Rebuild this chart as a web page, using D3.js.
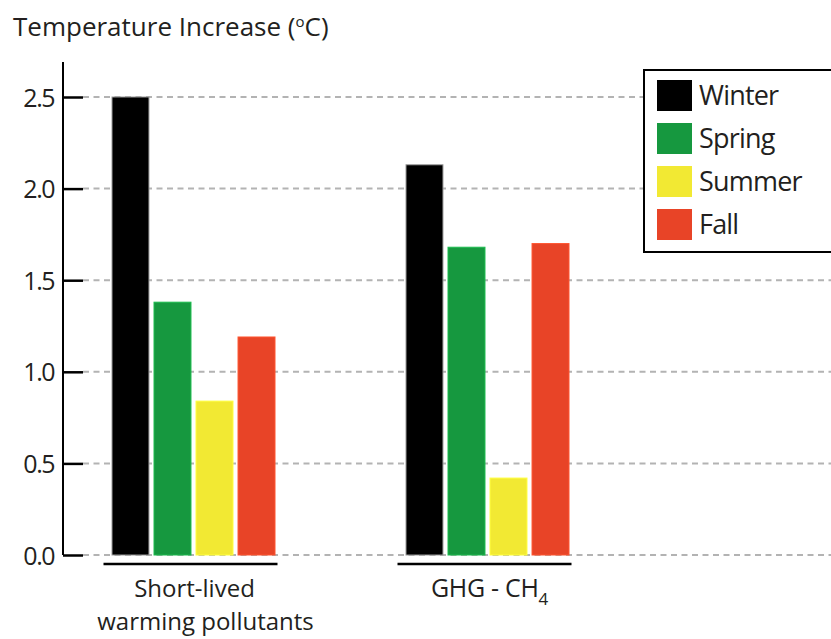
<!DOCTYPE html>
<html>
<head>
<meta charset="utf-8">
<script src="https://cdn.jsdelivr.net/npm/d3@7"></script>
<style>
  body { margin: 0; background: #fff; }
  text { font-family: "Open Sans", "Noto Sans", sans-serif; fill: #231f20; }
</style>
</head>
<body>
<svg id="chart" width="831" height="639"></svg>
<script>
// data
const groups = ["slcp", "ghg"]
const seasons = ["Winter", "Spring", "Summer", "Fall"]
const seasonColors = ["#000000", "#16983f", "#f2e933", "#e84427"]
const slcpValues = [2.5, 1.38, 0.84, 1.19]
const ghgValues = [2.13, 1.68, 0.42, 1.70]
const yTicks = [0, 0.5, 1.0, 1.5, 2.0, 2.5]

const rows = [
    { group: "slcp", values: slcpValues },
    { group: "ghg", values: ghgValues },
]

const width = 831
const height = 639
const svg = d3.select("#chart")

// scales
const y = d3.scaleLinear().domain([0, 2.5]).range([555, 97])
const xGroup = d3.scalePoint().domain(groups).range([193.5, 487.5])
const xSeason = d3
    .scaleBand()
    .domain(seasons)
    .range([-81.5, 81.5])
    .paddingInner(0.12)
    .paddingOuter(0)
const color = d3.scaleOrdinal().domain(seasons).range(seasonColors)

const axisX = 63

// dashed gridlines
svg.append("g")
    .selectAll("line")
    .data(yTicks)
    .join("line")
    .attr("x1", axisX + 20)
    .attr("x2", width)
    .attr("y1", (d) => y(d))
    .attr("y2", (d) => y(d))
    .attr("stroke", "#b3b3b3")
    .attr("stroke-width", 2)
    .attr("stroke-dasharray", "6,4.5")

// bars
const barGroups = svg
    .append("g")
    .selectAll("g")
    .data(rows)
    .join("g")
    .attr("transform", (d) => `translate(${xGroup(d.group)},0)`)

barGroups
    .selectAll("rect")
    .data((d) => d.values.map((v, i) => ({ season: seasons[i], value: v })))
    .join("rect")
    .attr("x", (d) => xSeason(d.season))
    .attr("width", xSeason.bandwidth())
    .attr("y", (d) => y(d.value))
    .attr("height", (d) => y(0) - y(d.value))
    .attr("fill", (d) => color(d.season))
    .attr("stroke", (d) =>
        d.season === "Winter" ? "#9a9a9a" : d3.color(color(d.season)).brighter(0.6)
    )
    .attr("stroke-width", 1)

// group underline
barGroups
    .append("line")
    .attr("x1", -90)
    .attr("x2", 84)
    .attr("y1", 564)
    .attr("y2", 564)
    .attr("stroke", "#000")
    .attr("stroke-width", 2.5)

// y axis
const yAxis = d3
    .axisLeft(y)
    .tickValues(yTicks)
    .tickSize(-20)
    .tickFormat(d3.format(".1f"))

const ax = svg
    .append("g")
    .attr("transform", `translate(${axisX},0)`)
    .call(yAxis)
ax.select(".domain").remove()
ax.selectAll(".tick line").attr("stroke", "#000").attr("stroke-width", 2.5)
ax.selectAll(".tick text")
    .attr("x", -9)
    .attr("dy", "0.36em")
    .style("font-size", "25px")
    .style("letter-spacing", "-1.5px")
    .attr("fill", "#231f20")
ax.append("line")
    .attr("x1", 0)
    .attr("x2", 0)
    .attr("y1", 62)
    .attr("y2", y(0))
    .attr("stroke", "#000")
    .attr("stroke-width", 2)

// title
const title = svg
    .append("text")
    .attr("x", 13)
    .attr("y", 36)
    .style("font-size", "26px")
    .style("letter-spacing", "0px")
title.append("tspan").text("Temperature Increase (")
title.append("tspan").text("o").attr("dy", -9).style("font-size", "15px")
title.append("tspan").text("C)").attr("dy", 9)

// category labels
svg.append("text")
    .attr("text-anchor", "middle")
    .attr("x", xGroup("slcp") + 1)
    .attr("y", 597)
    .style("font-size", "24px")
    .text("Short-lived")
svg.append("text")
    .attr("text-anchor", "middle")
    .attr("x", xGroup("slcp") + 12)
    .attr("y", 630)
    .style("font-size", "24px")
    .text("warming pollutants")

const lab2 = svg
    .append("text")
    .attr("text-anchor", "middle")
    .attr("x", xGroup("ghg") + 2)
    .attr("y", 597)
    .style("font-size", "25px")
    .style("letter-spacing", "-0.3px")
lab2.append("tspan").text("GHG - CH")
lab2.append("tspan").text("4").attr("dy", 8).style("font-size", "17px")

// legend
const legend = svg.append("g")
legend
    .append("rect")
    .attr("x", 644)
    .attr("y", 70)
    .attr("width", 200)
    .attr("height", 182)
    .attr("fill", "#fff")
    .attr("stroke", "#000")
    .attr("stroke-width", 2)

const items = legend
    .selectAll("g.item")
    .data(seasons)
    .join("g")
    .attr("class", "item")
    .attr("transform", (d, i) => `translate(657,${80 + i * 43})`)
items
    .append("rect")
    .attr("width", 35)
    .attr("height", 31)
    .attr("fill", (d) => color(d))
items
    .append("text")
    .attr("x", 42)
    .attr("y", 25)
    .style("font-size", "27px")
    .style("letter-spacing", "-0.8px")
    .text((d) => d)
</script>
</body>
</html>
